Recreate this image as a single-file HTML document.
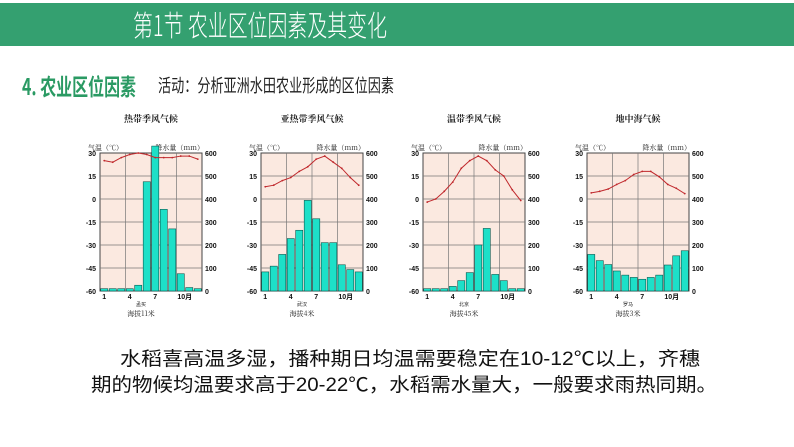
<!DOCTYPE html>
<html><head><meta charset="utf-8">
<style>
html,body{margin:0;padding:0;background:#fff;}
svg{display:block;font-family:"Liberation Sans","Noto Sans CJK SC",sans-serif;}
</style></head>
<body>
<svg id="s" width="794" height="447" viewBox="0 0 794 447" xmlns="http://www.w3.org/2000/svg">
<rect x="0" y="0" width="794" height="447" fill="#fff"/>
<rect x="0" y="3" width="794" height="43" fill="#34a070"/>
<text x="133" y="36" font-size="29" fill="#fff" font-family="'Noto Sans CJK SC',sans-serif" font-weight="300" textLength="254" lengthAdjust="spacingAndGlyphs">第1节 农业区位因素及其变化</text>
<text x="22" y="95" font-size="23" fill="#2a9a63" font-weight="bold" font-family="'Noto Sans CJK SC',sans-serif" textLength="114" lengthAdjust="spacingAndGlyphs">4. 农业区位因素</text>
<text x="158" y="92" font-size="18" fill="#222" font-family="'Noto Sans CJK SC',sans-serif" textLength="236" lengthAdjust="spacingAndGlyphs">活动：分析亚洲水田农业形成的区位因素</text>
<g id="charts"></g>
<text x="120" y="365" font-size="19" fill="#111" textLength="580" lengthAdjust="spacingAndGlyphs">水稻喜高温多湿，播种期日均温需要稳定在10-12℃以上，齐穗</text>
<text x="91" y="391" font-size="19" fill="#111" textLength="626" lengthAdjust="spacingAndGlyphs">期的物候均温要求高于20-22℃，水稻需水量大，一般要求雨热同期。</text>
</svg>
<script>
const titles = ["热带季风气候","亚热带季风气候","温带季风气候","地中海气候"];
const stations = ["孟买","武汉","北京","罗马"];
const altitudes = ["海拔11米","海拔4米","海拔45米","海拔3米"];
const temp1 = [25,24,27,29,30,29,27,27,27,28,28,26];
const temp2 = [8,9,12,14,18,21,26,28,24,20,14,9];
const temp3 = [-2,0,5,11,20,25,28,25,19,15,6,-1];
const temp4 = [4,5,6.5,9.5,12,16,18,18,14.5,9.5,7,3.5];
const rain1 = [10,10,10,10,25,475,630,355,270,75,15,10];
const rain2 = [83,108,159,228,264,394,314,210,210,114,93,83];
const rain3 = [10,10,10,20,45,80,200,272,72,45,10,10];
const rain4 = [159,132,115,87,69,59,51,59,69,113,153,175];
const tempTicks = [30,15,0,-15,-30,-45,-60];
const rainTicks = [600,500,400,300,200,100,0];
const monthLabels = ["1","4","7","10月"];
const temps = [temp1,temp2,temp3,temp4];
const rains = [rain1,rain2,rain3,rain4];
const lefts = [100,261,423,587];
const NS = "http://www.w3.org/2000/svg";
const g = document.getElementById("charts");
function mk(tag, attrs, parent){const e=document.createElementNS(NS,tag);for(const k in attrs)e.setAttribute(k,attrs[k]);(parent||g).appendChild(e);return e;}
const top0 = 153, bot0 = 291, W = 102;
const yT = v => top0 + (30 - v) / 90 * (bot0 - top0);
const yR = v => bot0 - v / 600 * (bot0 - top0);
for (let c = 0; c < 4; c++) {
  const L = lefts[c];
  const xB = i => L + (i + 0.5) * W / 12;
  const cg = mk("g", {});
  
  
  const t = mk("text", {x: L + W/2, y: 122, "text-anchor": "middle", "font-size": 9, fill: "#222", "font-family": "'Noto Serif CJK SC',serif", "font-weight": "bold"}, cg);
  t.textContent = titles[c];
  
  
  const lt = mk("text", {x: L - 12, y: 150, "font-size": 7, fill: "#222", "font-family": "'Noto Serif CJK SC',serif"}, cg);
  lt.textContent = "气温（℃）";
  
  
  const rt = mk("text", {x: L + W + 2, y: 150, "text-anchor": "end", "font-size": 7, fill: "#222", "font-family": "'Noto Serif CJK SC',serif"}, cg);
  rt.textContent = "降水量（mm）";
  
  
  const bg = mk("rect", {x: L, y: top0, width: W, height: bot0 - top0, fill: "#fbe9e0", stroke: "#444", "stroke-width": 1}, cg);
  
  
  tempTicks.forEach((v, i) => {
    const y = yT(v);
    if (i > 0 && i < tempTicks.length - 1) mk("line", {x1: L, x2: L + W, y1: y, y2: y, stroke: "#777", "stroke-width": 0.7}, cg);
    const tl = mk("text", {x: L - 4, y: y + 3, "text-anchor": "end", "font-size": 7, fill: "#111", "font-weight": "bold"}, cg);
    tl.textContent = v;
    
    
  });
  rainTicks.forEach(v => {
    const rl = mk("text", {x: L + W + 3, y: yR(v) + 3, "font-size": 7, fill: "#111", "font-weight": "bold"}, cg);
    rl.textContent = v;
    
    
  });
  for (let k = 1; k < 4; k++) { const x = L + k * W / 4; mk("line", {x1: x, x2: x, y1: top0, y2: bot0, stroke: "#777", "stroke-width": 0.7}, cg); }
  rains[c].forEach((v, i) => {
    const bw = W / 12 - 1.4;
    const b = mk("rect", {x: xB(i) - bw / 2, y: yR(v), width: bw, height: bot0 - yR(v), fill: "#1de0c8", stroke: "#0a5a50", "stroke-width": 0.6}, cg);
    
    
  });
  const pts = temps[c].map((v, i) => xB(i) + "," + yT(v)).join(" ");
  const pl = mk("polyline", {points: pts, fill: "none", stroke: "#c0282c", "stroke-width": 1}, cg);
  
  
  temps[c].forEach((v, i) => {
    const p = mk("circle", {cx: xB(i), cy: yT(v), r: 0.9, fill: "#c0282c"}, cg);
    
    
  });
  monthLabels.forEach((m, k) => {
    const ml = mk("text", {x: xB(k * 3) + (k === 3 ? 4 : 0), y: 299, "text-anchor": "middle", "font-size": 7, fill: "#111", "font-weight": "bold"}, cg);
    ml.textContent = m;
    
    
  });
  const st = mk("text", {x: L + W / 2 - 10, y: 306, "text-anchor": "middle", "font-size": 5, fill: "#222"}, cg);
  st.textContent = stations[c];
  
  
  const al = mk("text", {x: L + W / 2 - 10, y: 316, "text-anchor": "middle", "font-size": 7, fill: "#222", "font-family": "'Noto Serif CJK SC',serif"}, cg);
  al.textContent = altitudes[c];
  
  
}
</script>
</body></html>
